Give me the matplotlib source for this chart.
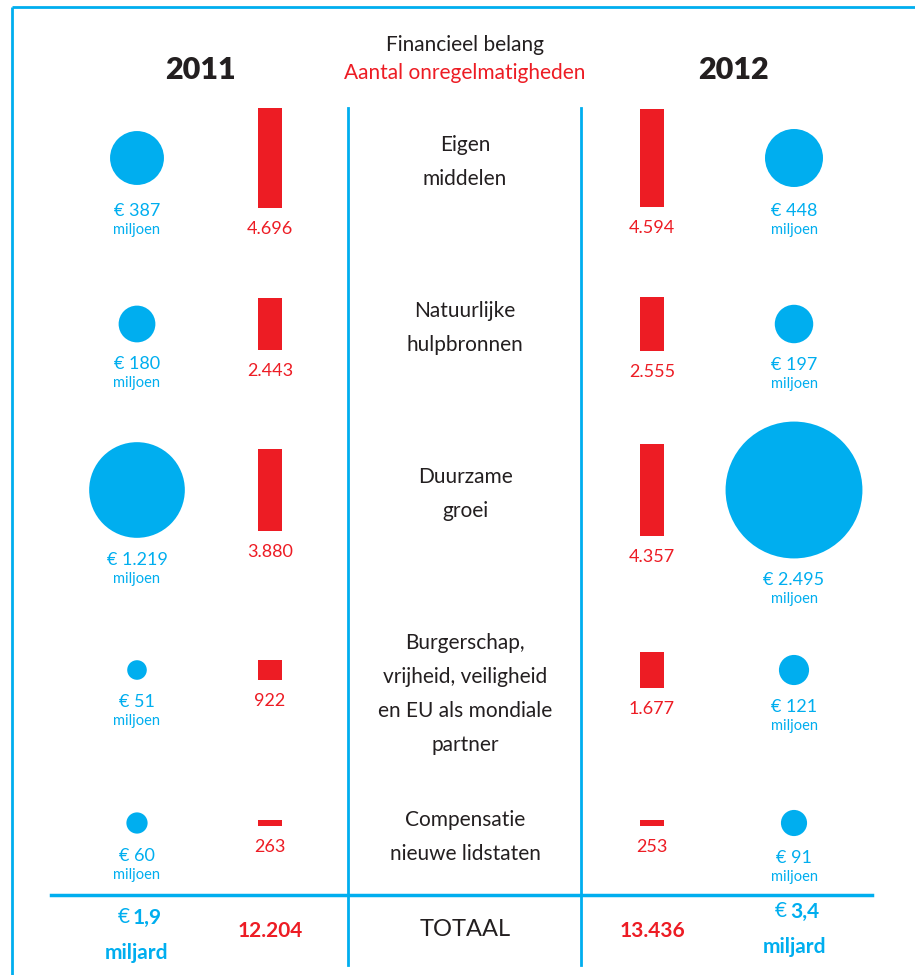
import numpy as np
import matplotlib
matplotlib.use("Agg")
import matplotlib.pyplot as plt
from matplotlib.patches import Circle

# Data
categorieen = ["Eigen\nmiddelen", "Natuurlijke\nhulpbronnen", "Duurzame\ngroei",
               "Burgerschap,\nvrijheid, veiligheid\nen EU als mondiale\npartner",
               "Compensatie\nnieuwe lidstaten"]
belang_2011 = [387, 180, 1219, 51, 60]          # miljoen euro
belang_2012 = [448, 197, 2495, 121, 91]
aantal_2011 = [4696, 2443, 3880, 922, 263]
aantal_2012 = [4594, 2555, 4357, 1677, 253]
belang_lbl_2011 = ["€ 387", "€ 180", "€ 1.219", "€ 51", "€ 60"]
belang_lbl_2012 = ["€ 448", "€ 197", "€ 2.495", "€ 121", "€ 91"]
aantal_lbl_2011 = ["4.696", "2.443", "3.880", "922", "263"]
aantal_lbl_2012 = ["4.594", "2.555", "4.357", "1.677", "253"]
totaal_belang = ["1,9", "3,4"]
totaal_aantal = ["12.204", "13.436"]

BLAUW = "#00AEEF"
ROOD = "#ED1C24"
ZWART = "#231F20"
FONT = ["Lato", "DejaVu Sans"]
plt.rcParams["font.family"] = FONT

fig = plt.figure(figsize=(9.15, 9.75), dpi=100)
ax = fig.add_axes([0, 0, 1, 1])
ax.set_xlim(0, 915)
ax.set_ylim(975, 0)
ax.axis("off")

# layout (pixels)
rij_y = [158, 324, 490, 670, 823]
tekst_y = [162, 328, 494, 694, 837]
min_lbl_y = [211, 363, 560, 702, 850]
x_cirkel = {2011: 137, 2012: 794}
x_balk = {2011: 270, 2012: 652}
x_midden = 465
k_cirkel = 1.37        # radius = k * sqrt(waarde)
k_balk = 1 / 47.0      # hoogte per onregelmatigheid

# frame and dividers
ax.plot([12, 12], [7, 975], color=BLAUW, lw=2, solid_capstyle="butt")
ax.plot([12, 915], [7, 7], color=BLAUW, lw=2, solid_capstyle="butt")
ax.plot([348, 348], [108, 965], color=BLAUW, lw=2)
ax.plot([581, 581], [108, 965], color=BLAUW, lw=2)
ax.plot([51, 872], [895, 895], color=BLAUW, lw=2.5)

# headers
ax.text(200, 70, "2011", fontsize=22, fontweight="heavy", color=ZWART, ha="center", va="center")
ax.text(733, 70, "2012", fontsize=22, fontweight="heavy", color=ZWART, ha="center", va="center")
ax.text(x_midden, 45, "Financieel belang", fontsize=15, color=ZWART, ha="center", va="center")
ax.text(x_midden, 73, "Aantal onregelmatigheden", fontsize=15, color=ROOD, ha="center", va="center")

for jaar, belang, aantal, bl, al in [(2011, belang_2011, aantal_2011, belang_lbl_2011, aantal_lbl_2011),
                                     (2012, belang_2012, aantal_2012, belang_lbl_2012, aantal_lbl_2012)]:
    hoogte = np.array(aantal) * k_balk
    ax.bar([x_balk[jaar]] * len(aantal), hoogte, width=24,
           bottom=np.array(rij_y) - hoogte / 2, color=ROOD)
    for i, y in enumerate(rij_y):
        r = k_cirkel * np.sqrt(belang[i])
        ax.add_patch(Circle((x_cirkel[jaar], y), r, color=BLAUW, lw=0))
        ly = max(min_lbl_y[i], y + r + 22)
        ax.text(x_cirkel[jaar], ly, bl[i], fontsize=13, color=BLAUW, ha="center", va="center")
        ax.text(x_cirkel[jaar], ly + 19, "miljoen", fontsize=10.5, color=BLAUW, ha="center", va="center")
        ax.text(x_balk[jaar], y + hoogte[i] / 2 + 21, al[i], fontsize=13, color=ROOD,
                ha="center", va="center")

for i, y in enumerate(tekst_y):
    ax.text(x_midden, y, categorieen[i], fontsize=15, color=ZWART, ha="center", va="center",
            linespacing=1.88)

# totals
ax.text(x_midden, 930, "TOTAAL", fontsize=17, color=ZWART, ha="center", va="center")
for jaar, tb, ta, yb in [(2011, totaal_belang[0], totaal_aantal[0], 918),
                         (2012, totaal_belang[1], totaal_aantal[1], 912)]:
    xc = x_cirkel[jaar]
    ax.text(xc - 7, yb - 1, "€", fontsize=15, color=BLAUW, ha="right", va="center")
    ax.text(xc - 4, yb, tb, fontsize=15, fontweight="bold", color=BLAUW, ha="left", va="center")
    ax.text(xc, yb + 35, "miljard", fontsize=15, fontweight="bold", color=BLAUW, ha="center", va="center")
    ax.text(x_balk[jaar], 931, ta, fontsize=15, fontweight="bold", color=ROOD, ha="center", va="center")

fig.savefig("out.png", dpi=100, facecolor="white")
